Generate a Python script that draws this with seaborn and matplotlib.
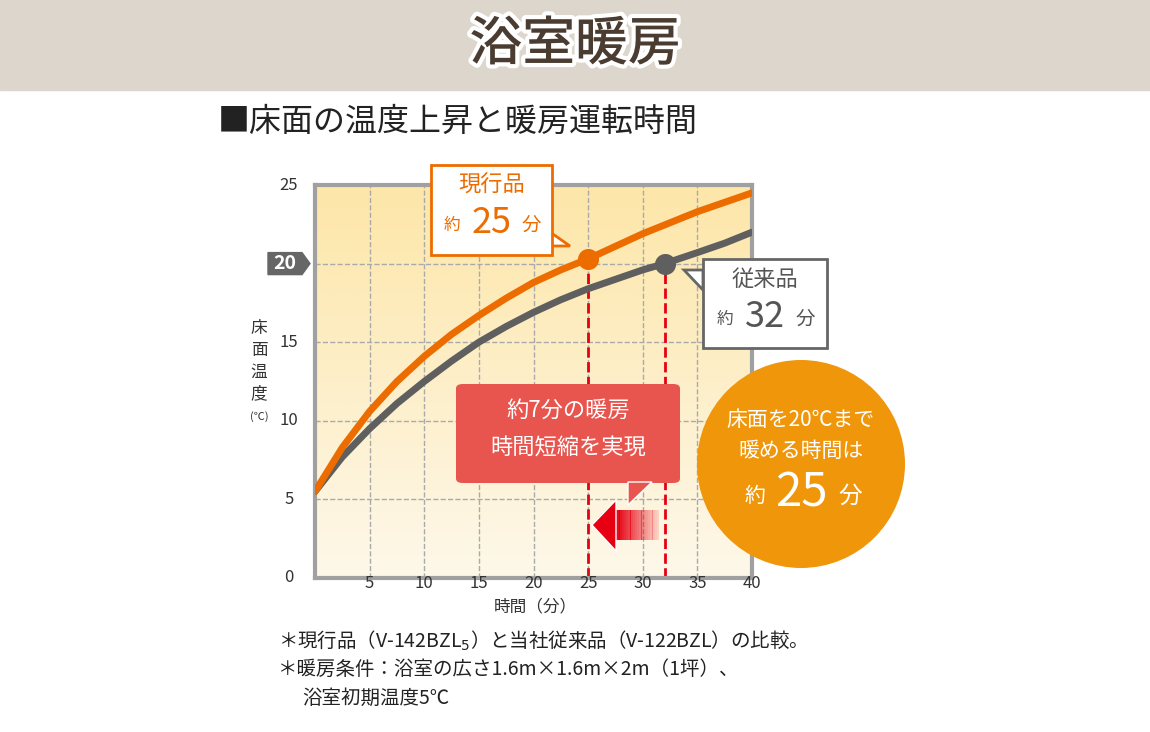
import numpy as np
import matplotlib
matplotlib.use("Agg")
import matplotlib.pyplot as plt
import matplotlib.patheffects as pe
from matplotlib.patches import FancyBboxPatch, Polygon, Rectangle, Ellipse
import seaborn as sns

sns.set_style("white")
plt.rcParams['font.family'] = ['Noto Sans CJK JP', 'DejaVu Sans']

minutes = [0, 2.5, 5, 7.5, 10, 12.5, 15, 17.5, 20, 22.5, 25, 27.5, 30, 32.5, 35, 37.5, 40]
new_temp = [5.5, 8.3, 10.6, 12.5, 14.1, 15.5, 16.7, 17.8, 18.8, 19.6, 20.3, 21.1, 21.9, 22.6, 23.3, 23.9, 24.5]
old_minutes = [0, 2.5, 5, 7.5, 10, 12.5, 15, 17.5, 20, 22.5, 25, 27.5, 30, 32, 35, 37.5, 40]
old_temp = [5.5, 7.7, 9.5, 11.1, 12.5, 13.8, 15.0, 16.0, 16.9, 17.7, 18.4, 19.0, 19.6, 20.0, 20.7, 21.3, 22.0]
x_ticks = [5, 10, 15, 20, 25, 30, 35, 40]
y_ticks = [0, 5, 10, 15, 20, 25]
new_time, old_time = 25, 32

W, H = 1150, 732
fig = plt.figure(figsize=(11.5, 7.32), dpi=100)


def fx(px):
    return px / W


def fy(py):
    return 1 - py / H


# header band
fig.patches.append(Rectangle((0, fy(90)), 1, 90 / H, transform=fig.transFigure,
                             color='#ddd6cc', zorder=0))
fig.text(0.5, fy(45), '浴室暖房', ha='center', va='center', fontsize=38, color='#4a3c30',
         fontweight='medium', path_effects=[pe.withStroke(linewidth=6, foreground='white')])
fig.text(fx(218), fy(122), '■床面の温度上昇と暖房運転時間', ha='left', va='center',
         fontsize=23, color='#222222')

ax = fig.add_axes([fx(315), fy(578), fx(752) - fx(315), (578 - 185) / H])
grad = np.linspace(0, 1, 256).reshape(-1, 1)
cmap = matplotlib.colors.LinearSegmentedColormap.from_list('bg', ['#fdf8ea', '#fde6a8'])
ax.imshow(grad, extent=[0, 40, 0, 25], aspect='auto', cmap=cmap, origin='lower', zorder=0,
          vmin=0, vmax=1)
ax.set_xlim(0, 40)
ax.set_ylim(0, 25)
for v in x_ticks[:-1]:
    ax.axvline(v, color='#aaaaaa', ls='--', lw=1, zorder=1)
for v in y_ticks[1:-1]:
    ax.axhline(v, color='#aaaaaa', ls='--', lw=1, zorder=1)
for s in ax.spines.values():
    s.set_color('#a0a0a0')
    s.set_linewidth(3)
ax.set_xticks([])
ax.set_yticks([])

sns.lineplot(x=old_minutes, y=old_temp, ax=ax, color='#5f5f5f', lw=5, zorder=3)
sns.lineplot(x=minutes, y=new_temp, ax=ax, color='#ec6c00', lw=5, zorder=4)
ax.vlines([new_time], 0, 20.3, colors='#e60012', ls='--', lw=2, zorder=2)
ax.vlines([old_time], 0, 20.0, colors='#e60012', ls='--', lw=2, zorder=2)
ax.scatter([new_time], [20.3], s=200, color='#ec6c00', zorder=5)
ax.scatter([old_time], [20.0], s=200, color='#5f5f5f', zorder=5)

# tick labels
for v in x_ticks:
    fig.text(fx(315 + v * 10.93), fy(583), str(v), ha='center', va='center', fontsize=12, color='#333333')
for v in y_ticks:
    py = 578 - v * 15.72
    if v == 20:
        fig.patches.append(Polygon([(fx(268), fy(py - 11)), (fx(302), fy(py - 11)), (fx(310), fy(py)),
                                    (fx(302), fy(py + 11)), (fx(268), fy(py + 11))],
                                   transform=fig.transFigure, color='#666666'))
        fig.text(fx(285), fy(py), '20', ha='center', va='center', fontsize=14, color='white', fontweight='bold')
    else:
        fig.text(fx(289), fy(py), str(v), ha='center', va='center', fontsize=12, color='#333333')
for i, ch in enumerate('床面温度'):
    fig.text(fx(259), fy(328 + i * 22), ch, ha='center', va='center', fontsize=12, color='#333333')
fig.text(fx(259), fy(417), '(℃)', ha='center', va='center', fontsize=8, color='#333333')
fig.text(fx(535), fy(607), '時間（分）', ha='center', va='center', fontsize=12, color='#333333')


# callouts
def callout(x0, y0, x1, y1, tail, ec, title, num, ncol):
    fig.patches.append(Polygon([(fx(a), fy(b)) for a, b in tail], transform=fig.transFigure,
                               fc='white', ec=ec, lw=2, zorder=6))
    fig.patches.append(Rectangle((fx(x0), fy(y1)), fx(x1 - x0), (y1 - y0) / H, transform=fig.transFigure,
                                 fc='white', ec=ec, lw=2, zorder=7))
    fig.patches.append(Polygon([(fx(a), fy(b)) for a, b in tail[1:]], transform=fig.transFigure,
                               fc='white', ec='none', zorder=8))
    cx = (x0 + x1) / 2
    fig.text(fx(cx), fy(y0 + 20), title, ha='center', va='center', fontsize=16, color=ncol, zorder=9)
    fig.text(fx(cx - 40), fy(y0 + 60), '約', ha='center', va='center', fontsize=12, color=ncol, zorder=9)
    fig.text(fx(cx), fy(y0 + 58), num, ha='center', va='center', fontsize=26, color=ncol, zorder=9)
    fig.text(fx(cx + 40), fy(y0 + 60), '分', ha='center', va='center', fontsize=14, color=ncol, zorder=9)


callout(431, 165, 552, 255, [(540, 225), (570, 246), (540, 246)], '#ec6c00', '現行品', '25', '#ec6c00')
callout(703, 259, 827, 348, [(703, 270), (684, 270), (703, 290)], '#666666', '従来品', '32', '#555555')

fig.patches.append(FancyBboxPatch((fx(456), fy(483)), fx(224), (483 - 384) / H, transform=fig.transFigure,
                                  boxstyle='round,pad=0,rounding_size=0.006', fc='#e8554e', ec='none', zorder=6))
fig.patches.append(Polygon([(fx(628), fy(482)), (fx(652), fy(482)), (fx(628), fy(505))],
                           transform=fig.transFigure, fc='#e8554e', zorder=6))
fig.text(fx(568), fy(410), '約7分の暖房', ha='center', va='center', fontsize=16, color='white', zorder=7)
fig.text(fx(568), fy(448), '時間短縮を実現', ha='center', va='center', fontsize=16, color='white', zorder=7)
# left arrow with fading body
for i in range(20):
    x = 615 + i * 2.2
    c = matplotlib.colors.to_rgba('#e60012', 1 - i / 22)
    fig.patches.append(Rectangle((fx(x), fy(540)), fx(2.3), 30 / H, transform=fig.transFigure,
                                 fc=c, ec='none', zorder=6))
fig.patches.append(Polygon([(fx(592), fy(525)), (fx(616), fy(500)), (fx(616), fy(551))],
                           transform=fig.transFigure, fc='#e60012', zorder=6))

fig.patches.append(Ellipse((fx(801), fy(464)), fx(208), 208 / H, transform=fig.transFigure,
                           fc='#f0960a', ec='none', zorder=5))
fig.text(fx(801), fy(420), '床面を20℃まで', ha='center', va='center', fontsize=15, color='white', zorder=7)
fig.text(fx(801), fy(451), '暖める時間は', ha='center', va='center', fontsize=15, color='white', zorder=7)
fig.text(fx(755), fy(496), '約', ha='center', va='center', fontsize=15, color='white', zorder=7)
fig.text(fx(801), fy(493), '25', ha='center', va='center', fontsize=34, color='white', zorder=7)
fig.text(fx(850), fy(496), '分', ha='center', va='center', fontsize=17, color='white', zorder=7)

# footnotes
fig.text(fx(278), fy(641), '＊現行品（V-142BZL$_5$）と当社従来品（V-122BZL）の比較。', ha='left', va='center',
         fontsize=14, color='#222222')
fig.text(fx(278), fy(669), '＊暖房条件：浴室の広さ1.6m×1.6m×2m（1坪）、', ha='left', va='center',
         fontsize=14, color='#222222')
fig.text(fx(302), fy(698), '浴室初期温度5℃', ha='left', va='center', fontsize=14, color='#222222')

fig.savefig('out.png', dpi=100, facecolor='white')
